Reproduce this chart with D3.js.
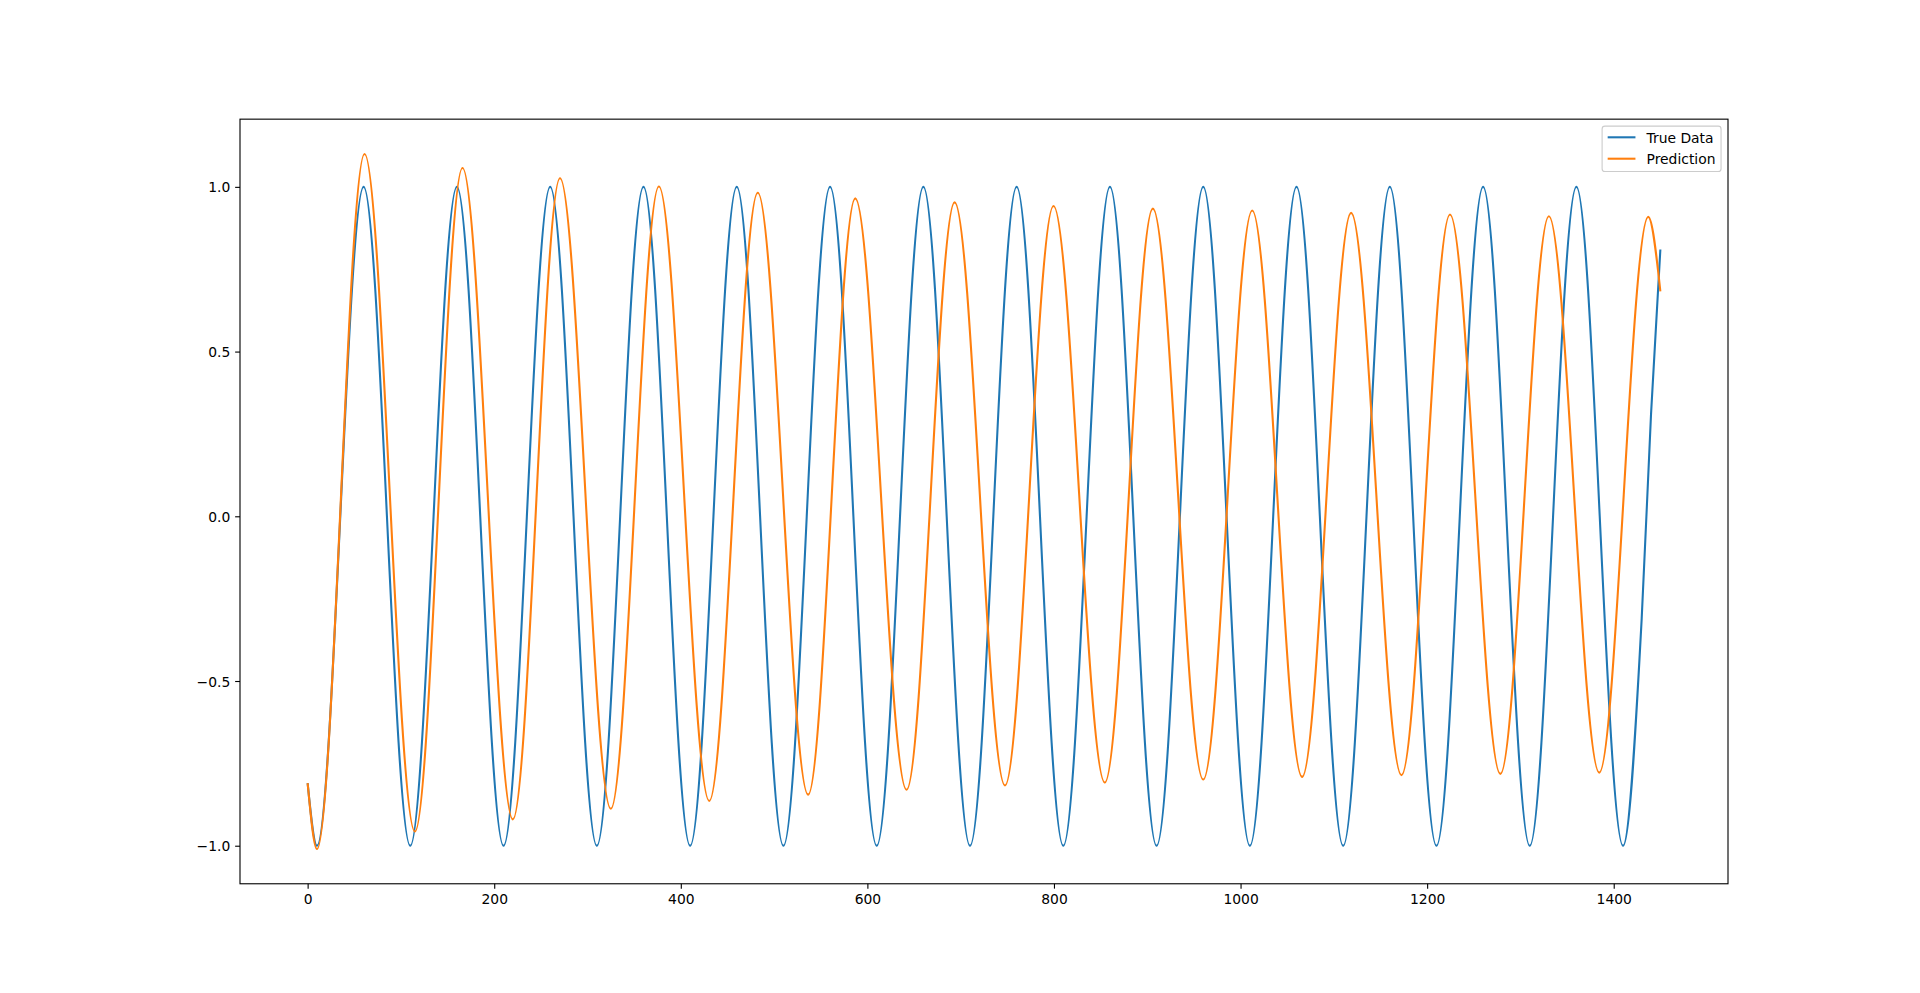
<!DOCTYPE html>
<html><head><meta charset="utf-8">
<script src="https://cdn.jsdelivr.net/npm/d3@7"></script>
<style>html,body{margin:0;padding:0;background:#fff;} svg{display:block;}</style>
</head><body>
<script>
// Key points (start, each trough/peak, end)
const trueX = [0, 10, 60, 110, 160, 210, 260, 310, 360, 410, 460, 510, 560, 610, 660, 710, 760, 810, 860, 910, 960, 1010, 1060, 1110, 1160, 1210, 1260, 1310, 1360, 1410, 1430, 1440, 1450];
const trueY = [-0.81, -1, 1, -1, 1, -1, 1, -1, 1, -1, 1, -1, 1, -1, 1, -1, 1, -1, 1, -1, 1, -1, 1, -1, 1, -1, 1, -1, 1, -1, -0.31, 0.31, 0.81];

const predX = [0, 10, 61, 115, 166, 220, 270.5, 325, 376.5, 430.5, 482.5, 536.5, 587, 642, 693.5, 747.5, 799.5, 854.5, 906, 960, 1012.5, 1066, 1118.5, 1172.5, 1224.5, 1278.5, 1330.5, 1384.5, 1437, 1450];
const predY = [-0.81, -1.01, 1.10, -0.957, 1.057, -0.920, 1.026, -0.888, 1.001, -0.864, 0.982, -0.845, 0.965, -0.830, 0.953, -0.817, 0.942, -0.808, 0.934, -0.799, 0.928, -0.791, 0.921, -0.786, 0.916, -0.782, 0.911, -0.778, 0.909, 0.683];

const xTicks = [0, 200, 400, 600, 800, 1000, 1200, 1400];
const xTickLabels = ["0", "200", "400", "600", "800", "1000", "1200", "1400"];
const yTicks = [-1.0, -0.5, 0.0, 0.5, 1.0];
const yTickLabels = ["\u22121.0", "\u22120.5", "0.0", "0.5", "1.0"];
const seriesNames = ["True Data", "Prediction"];
const seriesColors = ["#1f77b4", "#ff7f0e"];

const W = 1920, H = 993;
const L = 240, R = 1728, T = 119.16, B = 883.77;
const FONT = "DejaVu Sans", FS = 13.89;
const tickLen = 4.86, tickPad = 4.86;

const svg = d3.select("body").append("svg").attr("width", W).attr("height", H)
  .style("font-family", FONT);
svg.append("rect").attr("width", W).attr("height", H).attr("fill", "#fff");

const allX = trueX.concat(predX), allY = trueY.concat(predY);
const [xa, xb] = d3.extent(allX), [ya, yb] = d3.extent(allY);
const padX = (xb - xa) * 0.05, padY = (yb - ya) * 0.05;
const x = d3.scaleLinear().domain([xa - padX, xb + padX]).range([L, R]);
const y = d3.scaleLinear().domain([ya - padY, yb + padY]).range([B, T]);

// lines
const series = [
  {xs: trueX, ys: trueY},
  {xs: predX, ys: predY}
];
const line = d3.line().x(d => x(d[0])).y(d => y(d[1])).curve(d3.curveMonotoneX);
series.forEach((s, i) => {
  svg.append("path")
    .datum(s.xs.map((v, j) => [v, s.ys[j]]))
    .attr("d", line)
    .attr("fill", "none")
    .attr("stroke", seriesColors[i])
    .attr("stroke-width", 2.08)
    .attr("stroke-linejoin", "round")
    .attr("stroke-linecap", "butt");
});

// axes
const xAxis = d3.axisBottom(x).tickValues(xTicks).tickFormat((d, i) => xTickLabels[i])
  .tickSizeInner(tickLen).tickSizeOuter(0).tickPadding(tickPad);
const gx = svg.append("g").attr("transform", `translate(0,${B})`).call(xAxis);
const yAxis = d3.axisLeft(y).tickValues(yTicks).tickFormat((d, i) => yTickLabels[i])
  .tickSizeInner(tickLen).tickSizeOuter(0).tickPadding(tickPad);
const gy = svg.append("g").attr("transform", `translate(${L},0)`).call(yAxis);
[gx, gy].forEach(g => {
  g.select(".domain").remove();
  g.selectAll(".tick line").attr("stroke", "#000").attr("stroke-width", 1.11);
  g.selectAll(".tick text").attr("fill", "#000").style("font-size", FS + "px").style("font-family", FONT);
});
gy.selectAll(".tick text").attr("dy", "0.36em");
gx.selectAll(".tick text").attr("dy", "0.74em");

// frame
svg.append("rect").attr("x", L).attr("y", T).attr("width", R - L).attr("height", B - T)
  .attr("fill", "none").attr("stroke", "#000").attr("stroke-width", 1.11);

// legend
const borderPad = 0.4 * FS, axPad = 0.5 * FS, handleLen = 2.0 * FS, handlePad = 0.8 * FS;
const lg = svg.append("g");
const box = lg.append("rect");
const texts = seriesNames.map((n, i) => lg.append("text").text(n)
  .style("font-size", FS + "px").attr("fill", "#000"));
const tw = d3.max(texts, t => t.node().getComputedTextLength());
const boxW = borderPad * 2 + handleLen + handlePad + tw;
const boxR = R - axPad, boxL = boxR - boxW, boxT = T + axPad;
const rowY = [boxT + 11.2, boxT + 32.6];
const boxH = 45.4;
box.attr("x", boxL).attr("y", boxT).attr("width", boxW).attr("height", boxH)
  .attr("rx", 2.8).attr("ry", 2.8)
  .attr("fill", "#fff").attr("fill-opacity", 0.8)
  .attr("stroke", "#cccccc").attr("stroke-width", 1.11);
seriesNames.forEach((n, i) => {
  lg.append("line").attr("x1", boxL + borderPad).attr("x2", boxL + borderPad + handleLen)
    .attr("y1", rowY[i]).attr("y2", rowY[i])
    .attr("stroke", seriesColors[i]).attr("stroke-width", 2.08);
  texts[i].attr("x", boxL + borderPad + handleLen + handlePad).attr("y", rowY[i] + 5.3);
});
</script>
</body></html>
